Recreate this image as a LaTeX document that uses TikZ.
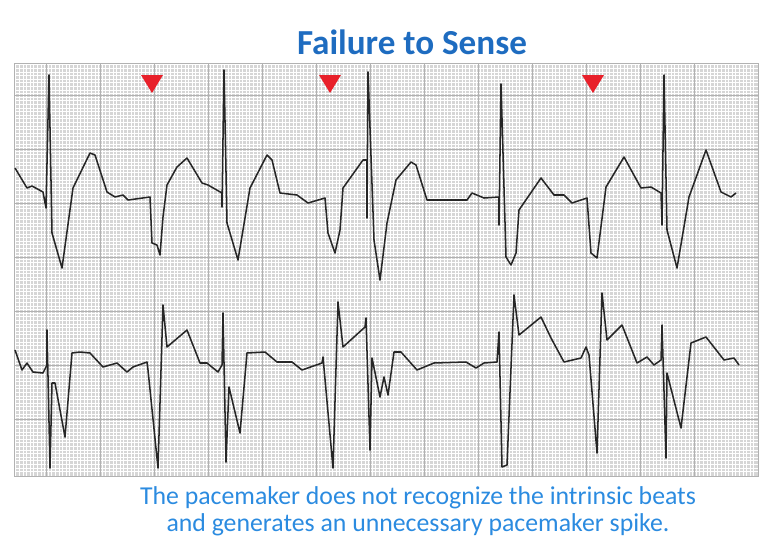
\documentclass[tikz,border=0pt]{standalone}
\usepackage{fontspec}
\setmainfont{Carlito}
\definecolor{titleblue}{HTML}{1E6CC0}
\definecolor{captionblue}{HTML}{2B8BE0}
\definecolor{paper}{HTML}{D6D6D6}
\definecolor{marker}{HTML}{E8202A}
\tikzset{
  trace/.style={line width=1.3pt, black!85, line join=round},
  senseflag/.style={fill=marker, draw=none},
}
\begin{document}
\begin{tikzpicture}[x=0.03cm, y=-0.03cm]
\useasboundingbox (0,0) rectangle (768,551);

% paper grid
\fill[paper] (14,63) rectangle (758,476);
\draw[white, line width=0.55pt] foreach \gx in {15.8,19.4,...,756} {(\gx,63) -- (\gx,476)};
\draw[white, line width=0.55pt] foreach \gy in {64.8,68.4,...,475} {(14,\gy) -- (758,\gy)};
\draw[black!30, line width=0.6pt] foreach \gx in {46,100,...,746} {(\gx,63) -- (\gx,476)};
\draw[black!30, line width=0.6pt] foreach \gy in {95,149,...,470} {(14,\gy) -- (758,\gy)};
\draw[black!30, line width=0.8pt] (14,63) rectangle (758,476);

% title and caption
\node (title) [font=\bfseries\fontsize{30}{34}\selectfont, text=titleblue] at (412,42) {Failure to Sense};
\node (caption) [font=\fontsize{22}{23}\selectfont, text=captionblue, align=center] at (418,511)
  {The pacemaker does not recognize the intrinsic beats\\and generates an unnecessary pacemaker spike.};

% upper lead
\draw[trace] plot coordinates {(15,168) (27,188) (32,186) (43,192) (46,208) (49,75) (52,233) (62,268)
  (73,188) (90,153) (95,155) (107,192) (115,197) (123,195) (128,200) (150,197) (152,243) (157,245)
  (160,255) (163,217) (167,185) (177,167) (187,158) (202,183) (208,185) (222,193) (222,207) (224,70)
  (227,223) (238,260) (250,188) (267,155) (272,160) (280,193) (297,195) (308,203) (325,198) (328,233)
  (335,253) (340,230) (343,188) (363,160) (367,160) (367,218) (368,72) (374,240) (380,280) (387,223)
  (396,180) (411,162) (416,165) (427,200) (467,200) (472,193) (484,198) (499,197) (499,225) (501,84)
  (506,257) (511,265) (516,253) (519,210) (541,178) (554,195) (564,195) (572,203) (587,198) (591,253)
  (597,258) (606,187) (624,157) (641,188) (651,187) (661,193) (662,225) (664,75) (667,230) (677,268)
  (689,197) (706,150) (721,192) (731,197) (736,193)};

% lower lead
\draw[trace] plot coordinates {(15,350) (22,370) (27,363) (33,372) (43,373) (47,365) (47,330) (50,468)
  (52,383) (55,383) (65,437) (72,353) (80,352) (90,353) (103,367) (117,363) (127,372) (133,367)
  (147,362) (148,370) (158,468) (163,305) (167,347) (187,330) (200,363) (207,363) (218,372) (222,365)
  (223,313) (226,462) (229,387) (240,433) (247,353) (265,352) (277,362) (292,362) (302,370) (322,363)
  (323,357) (333,468) (338,302) (343,347) (365,327) (366,318) (370,450) (372,358) (380,397) (384,377)
  (388,395) (394,352) (401,352) (417,370) (434,363) (466,362) (476,368) (484,363) (497,362) (499,332)
  (502,467) (507,465) (514,295) (519,335) (541,317) (551,338) (564,362) (581,358) (586,347) (589,355)
  (597,453) (602,293) (607,340) (622,325) (637,363) (647,357) (654,365) (661,360) (662,325) (666,458)
  (667,373) (681,428) (691,343) (706,337) (724,360) (734,358) (739,365)};

% markers of missed beats
\foreach \mx [count=\i] in {152,330,593} {
  \fill[senseflag] (\mx-11,75) -- (\mx+11,75) -- (\mx,93) -- cycle;
}
\end{tikzpicture}
\end{document}
